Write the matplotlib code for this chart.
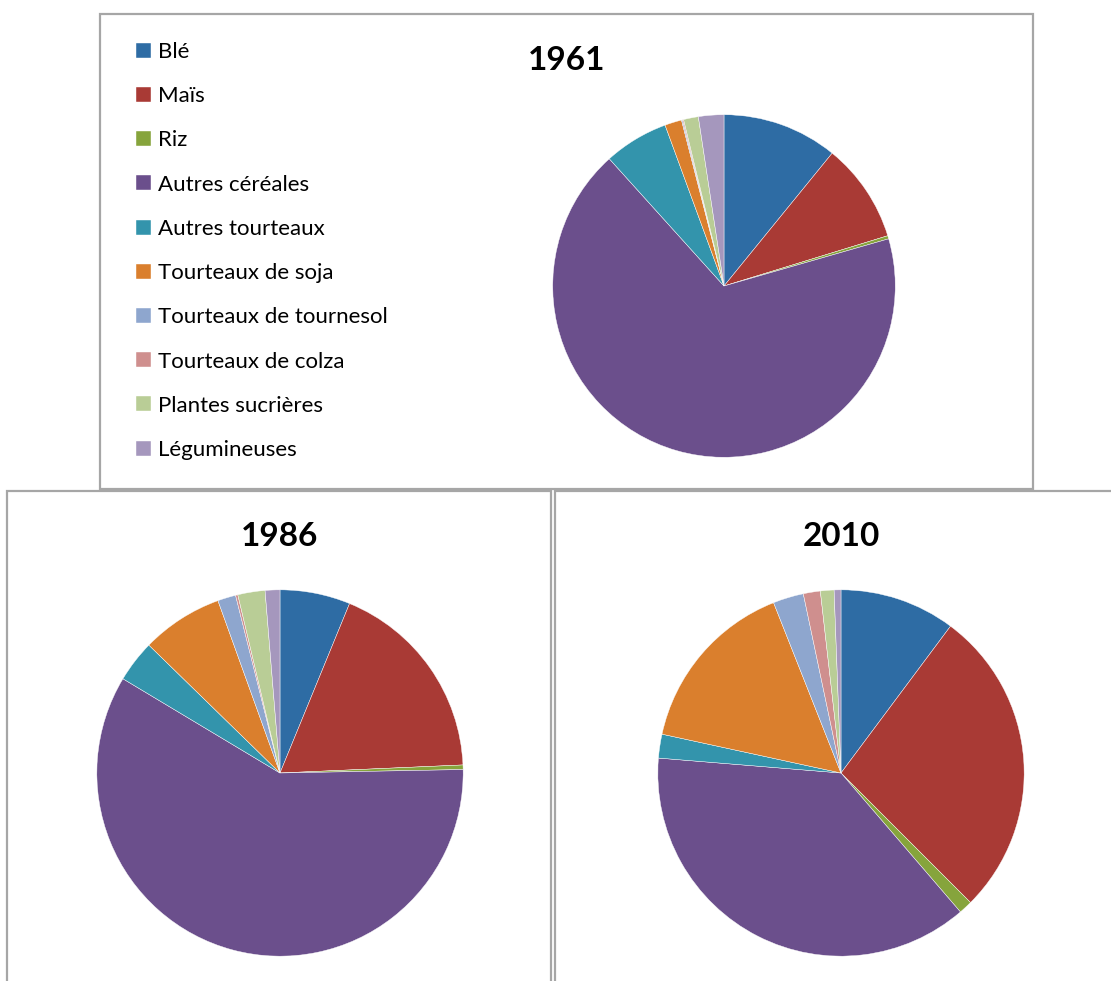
import matplotlib
matplotlib.use("Agg")
import matplotlib.pyplot as plt
from matplotlib.patches import Rectangle

plt.rcParams['font.family'] = ['Lato', 'DejaVu Sans']

labels = ['Blé', 'Maïs', 'Riz', 'Autres céréales', 'Autres tourteaux',
          'Tourteaux de soja', 'Tourteaux de tournesol', 'Tourteaux de colza',
          'Plantes sucrières', 'Légumineuses']
colors = ['#2E6CA4', '#A93A35', '#86A43C', '#6B4F8C', '#3394AC',
          '#DA7F2D', '#8EA6CE', '#CF8F8E', '#B9CD96', '#A597BD']

# shares in %
v1961 = [10.9, 9.4, 0.3, 67.9, 6.1, 1.6, 0.1, 0.1, 1.4, 2.4]
v1986 = [6.2, 18.1, 0.4, 58.9, 3.7, 7.2, 1.6, 0.2, 2.4, 1.3]
v2010 = [10.2, 27.3, 1.2, 37.6, 2.1, 15.6, 2.7, 1.5, 1.2, 0.6]

W, H = 1111, 981
fig = plt.figure(figsize=(W / 100, H / 100), dpi=100)

def box(x0, y0, x1, y1):
    r = Rectangle((x0 / W, 1 - y1 / H), (x1 - x0) / W, (y1 - y0) / H,
                  transform=fig.transFigure, fill=False, edgecolor='#A6A6A6',
                  linewidth=1.6, clip_on=False)
    fig.patches.append(r)

box(100, 14, 1033, 489)
box(7, 491, 551, 1000)
box(555, 491, 1120, 1000)

def pie(vals, cx, cy, r, title, tx, ty):
    ax = fig.add_axes([(cx - r) / W, 1 - (cy + r) / H, 2 * r / W, 2 * r / H])
    wedges, _ = ax.pie(vals, colors=colors, startangle=90, counterclock=False,
                       radius=1, wedgeprops=dict(edgecolor='white', linewidth=0.3))
    ax.set_xlim(-1.01, 1.01)
    ax.set_ylim(-1.01, 1.01)
    ax.set_aspect('equal')
    ax.axis('off')
    fig.text(tx / W, 1 - ty / H, title, ha='center', va='center',
             fontsize=24, fontweight='bold')
    return wedges

w = pie(v1961, 724, 286, 173, '1961', 567, 60)
pie(v1986, 280, 773, 185, '1986', 280, 536)
pie(v2010, 841, 773, 185, '2010', 841, 536)

fig.legend(w, labels, loc='upper left', bbox_to_anchor=(136 / W, 1 - 42 / H),
           frameon=False, fontsize=16, labelspacing=1.09, handlelength=0.66,
           handleheight=0.66, handletextpad=0.35, borderpad=0, borderaxespad=0)

fig.savefig('out.png', dpi=100)
